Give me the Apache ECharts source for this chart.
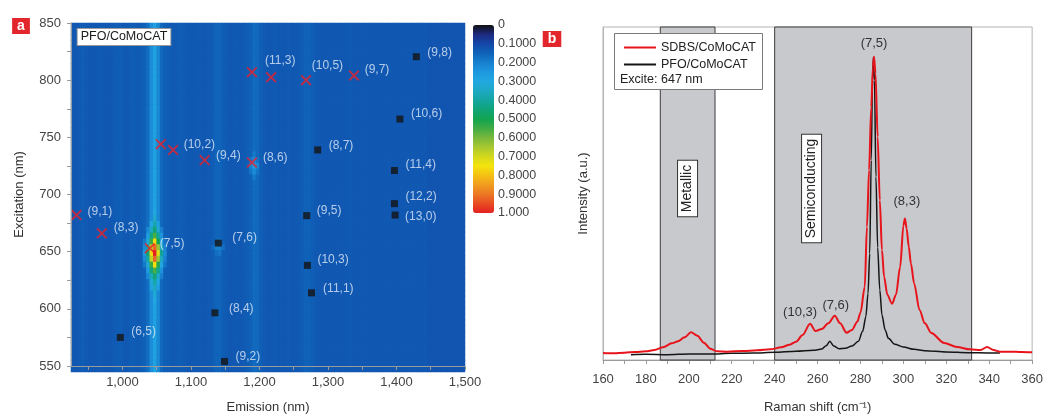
<!DOCTYPE html>
<html><head><meta charset="utf-8">
<script src="https://cdn.jsdelivr.net/npm/echarts@6/dist/echarts.min.js"></script>
<style>html,body{margin:0;padding:0;background:#fff;overflow:hidden;width:1046px;height:419px}#c{width:1046px;height:419px;overflow:hidden;display:block}</style>
</head><body><div id="c"></div>
<script>
// ================= Panel a: PL map (PFO/CoMoCAT) =================
// background intensity per 5-nm emission column (centres 927.5 ... 1497.5)
const colBase = [
  0.13,0.13,0.135,0.14,0.135,0.13,0.13,0.13,0.135,0.13,
  0.13,0.13,0.135,0.14,0.14,0.135,0.13,0.14,0.14,0.135,
  0.14,0.15,0.17,0.23,0.28,0.22,0.16,0.145,0.14,0.135,
  0.135,0.14,0.14,0.135,0.13,0.13,0.135,0.135,0.13,0.13,
  0.135,0.14,0.155,0.155,0.14,0.135,0.13,0.13,0.135,0.13,
  0.135,0.14,0.15,0.165,0.16,0.145,0.135,0.13,0.13,0.135,
  0.13,0.13,0.13,0.135,0.13,0.13,0.135,0.14,0.15,0.15,
  0.14,0.135,0.13,0.13,0.13,0.13,0.13,0.13,0.13,0.13,
  0.13,0.135,0.13,0.13,0.13,0.13,0.13,0.13,0.13,0.13,
  0.13,0.13,0.13,0.13,0.13,0.13,0.13,0.13,0.13,0.13,
  0.13,0.13,0.13,0.13,0.125,0.125,0.125,0.125,0.125,0.125,
  0.125,0.125,0.125,0.125,0.125
];
// bright cells [emission centre, excitation centre, intensity]
const hotCells = [
  // (7,5) spot
  [1047.5,612.5,0.3],[1047.5,617.5,0.32],[1047.5,622.5,0.35],[1047.5,627.5,0.39],[1047.5,632.5,0.45],[1047.5,637.5,0.56],
  [1047.5,642.5,0.76],[1047.5,647.5,0.92],[1047.5,652.5,1.0],[1047.5,657.5,0.92],[1047.5,662.5,0.76],
  [1047.5,667.5,0.56],[1047.5,672.5,0.45],[1047.5,677.5,0.38],[1047.5,682.5,0.33],[1047.5,687.5,0.3],
  [1042.5,622.5,0.28],[1042.5,627.5,0.31],[1042.5,632.5,0.36],[1042.5,637.5,0.44],[1042.5,642.5,0.54],[1042.5,647.5,0.68],
  [1042.5,652.5,0.76],[1042.5,657.5,0.68],[1042.5,662.5,0.54],[1042.5,667.5,0.43],[1042.5,672.5,0.35],[1042.5,677.5,0.3],
  [1052.5,622.5,0.27],[1052.5,627.5,0.3],[1052.5,632.5,0.34],[1052.5,637.5,0.42],[1052.5,642.5,0.52],[1052.5,647.5,0.64],
  [1052.5,652.5,0.72],[1052.5,657.5,0.64],[1052.5,662.5,0.5],[1052.5,667.5,0.41],[1052.5,672.5,0.33],[1052.5,677.5,0.28],
  [1037.5,632.5,0.22],[1037.5,637.5,0.26],[1037.5,642.5,0.32],[1037.5,647.5,0.4],[1037.5,652.5,0.45],[1037.5,657.5,0.4],[1037.5,662.5,0.32],[1037.5,667.5,0.26],[1037.5,672.5,0.22],
  [1057.5,632.5,0.2],[1057.5,637.5,0.24],[1057.5,642.5,0.3],[1057.5,647.5,0.36],[1057.5,652.5,0.41],[1057.5,657.5,0.36],[1057.5,662.5,0.29],[1057.5,667.5,0.24],[1057.5,672.5,0.2],
  [1032.5,642.5,0.19],[1032.5,647.5,0.22],[1032.5,652.5,0.25],[1032.5,657.5,0.22],[1032.5,662.5,0.19],
  [1062.5,642.5,0.18],[1062.5,647.5,0.21],[1062.5,652.5,0.23],[1062.5,657.5,0.21],[1062.5,662.5,0.18],
  // (8,6) glow
  [1192.5,727.5,0.27],[1192.5,722.5,0.23],[1192.5,732.5,0.23],[1187.5,727.5,0.21],[1197.5,727.5,0.22],
  [1192.5,717.5,0.19],[1192.5,737.5,0.19],[1187.5,722.5,0.18],[1197.5,732.5,0.18],[1187.5,732.5,0.18],[1197.5,722.5,0.18],
  // (7,6) glow
  [1142.5,657.5,0.2],[1137.5,657.5,0.2],[1142.5,662.5,0.18],[1142.5,652.5,0.18],
  [1137.5,662.5,0.17],[1137.5,652.5,0.17],[1147.5,657.5,0.17],[1132.5,657.5,0.16]
];
// red crosses
const redLabels     = ['(9,1)','(8,3)','(7,5)','','(10,2)','(9,4)','(8,6)','','(11,3)','(10,5)','(9,7)'];
const redEmission   = [933, 970, 1040, 1056, 1074, 1120, 1189, 1189, 1217, 1268, 1338];
const redExcitation = [682, 666, 653, 744, 739, 730, 728, 807, 802.5, 800, 804];
// black squares
const blackLabels     = ['(9,8)','(10,6)','(8,7)','(11,4)','(12,2)','(13,0)','(9,5)','(10,3)','(11,1)','(7,6)','(8,4)','(6,5)','(9,2)'];
const blackEmission   = [1429, 1405, 1285, 1397, 1397, 1398, 1269, 1270, 1276, 1140, 1135, 997, 1149];
const blackExcitation = [820.5, 766, 739, 721, 692, 682, 681.5, 638, 614, 657.5, 596.5, 575, 554];
// ticks
const emissionTicks = [1000, 1100, 1200, 1300, 1400, 1500];
const emissionMinorTicks = [950, 1000, 1050, 1100, 1150, 1200, 1250, 1300, 1350, 1400, 1450, 1500];
const colorbarTicks = [0, 0.1, 0.2, 0.3, 0.4, 0.5, 0.6, 0.7, 0.8, 0.9, 1.0];

// ================= Panel b: Raman spectra =================
const ramanSDBS = [160,165,170,175,180,184,188,192,195,198,201,204,207,210,213,218,225,232,238,243,247,250,253,256.5,259,262,265,268,270.5,273.5,276,278.5,280,282,283,284,285,285.8,286.3,287,288,289,290,291,292.5,294.7,296.5,298.5,300,300.7,301.5,302.5,303.5,305,307.5,310,313,319,325,331,336,339,342,345,350,355,360];
const intensSDBS = [2.1,2.0,2.2,2.4,2.6,3.0,3.8,5.0,5.6,6.8,8.3,7.3,5.2,3.4,2.6,2.5,2.7,2.9,3.2,3.8,4.6,5.5,7.5,10.9,8.7,9.3,11.0,13.3,11.0,8.2,9.0,11.5,14.2,22,40,57,76,88,91.1,86,67,48,33,25,19.6,16.9,19.5,28,40.4,42.5,39.5,34,29,23,15,11,8.1,5.1,3.9,3.2,3.0,3.9,3.0,2.5,2.5,2.4,2.3];
const ramanPFO = [173,180,190,200,210,220,230,240,250,258,262,264,265.7,267.5,270,273,276,279,281,282.5,283.5,284.3,285,285.6,286,286.5,287.2,288,289,290,291.5,293,296,300,305,310,320,330,340,345];
const intensPFO = [1.6,1.7,1.6,1.8,1.8,2.0,2.1,2.3,2.6,2.9,3.3,4.3,5.6,4.2,3.4,3.5,4.2,5.6,8.6,13,20,32,60,84,91,84,55,33.8,21,13.5,9,6.5,4.7,3.9,3.2,2.8,2.4,2.2,2.1,2.1];
const regionMetallic = [186.7, 212.2];
const regionSemi = [240, 331.8];
const peakNames = ['(10,3)', '(7,6)', '(7,5)', '(8,3)'];
const peakShifts = [256.5, 268, 286.3, 300.7];
const ramanTicks = [160,180,200,220,240,260,280,300,320,340,360];
const ramanMinorTicks = [160,170,180,190,200,210,220,230,240,250,260,270,280,290,300,310,320,330,340,350,360];

// ---- styles ----
const FONT = "'Liberation Sans', Arial, sans-serif";
const redOffsets = [[11,-3],[12,-6],[10,-5],null,[10.6,-5],[11.4,-5],[11,-5],null,[-6,-17],[5.7,-14],[10.7,-6]];
const blackOffsets = [[11,-4],[11,-5],[11,-4],[11,-6],[11,-7],[10,2],[10,-5],[10,-6],[11.6,-4],[14,-5],[14,-4],[11,-6],[11,-5]];
const peakLabelStyle = [[-10,5],[1,4],[0,7],[2,11]];
const colorRamp = ['#111111','#1e2a80','#1448a8','#0f62b8','#1880cf','#1e98df','#22a8e0','#1ea8c4','#14a6a0','#10a478','#12a450','#40ac44','#78b83c','#a8c830','#d4d81c','#f4e40c','#f4c014','#f09c20','#ec7824','#e84c24','#e42020'];
const mapBackground = '#1159b3';

// ---- build heatmap table ----
const emCenters = []; for (let e = 927.5; e < 1500; e += 5) emCenters.push(e);
const exCenters = []; for (let x = 552.5; x < 850; x += 5) exCenters.push(x);
const hot = new Map(hotCells.map(c => [c[0] + '|' + c[1], c[2]]));
const heatData = [];
exCenters.forEach((ex, j) => emCenters.forEach((em, i) => {
  const b = colBase[i] !== undefined ? colBase[i] : 0.13;
  const h = hot.get(em + '|' + ex);
  heatData.push([i, j, h !== undefined ? Math.max(h, b) : b]);
}));

function markerData(em, ex, labels, offsets, size) {
  return em.map((e, i) => {
    const o = offsets[i];
    return {
      value: [e, ex[i]],
      label: o ? { show: true, formatter: labels[i], position: [size / 2 + o[0], size / 2 + o[1]], align: 'left', verticalAlign: 'middle' } : { show: false }
    };
  });
}

const redX = 'path://M0,1.2L1.2,0L5,3.8L8.8,0L10,1.2L6.2,5L10,8.8L8.8,10L5,6.2L1.2,10L0,8.8L3.8,5Z';
const markerLabel = { color: '#dde9f8', fontSize: 12, fontFamily: FONT };

const sdbsData = ramanSDBS.map((x, i) => [x, intensSDBS[i]]);
const pfoData = ramanPFO.map((x, i) => [x, intensPFO[i]]);
const peakMarks = peakNames.map((n, i) => {
  const idx = ramanSDBS.indexOf(peakShifts[i]);
  return { name: n, coord: [peakShifts[i], intensSDBS[idx]],
    label: { offset: [peakLabelStyle[i][0], 0], distance: peakLabelStyle[i][1] } };
});

const axisGrey = '#9a9a9a';
const chart = echarts.init(document.getElementById('c'), null, { width: 1046, height: 419 });
chart.setOption({
  animation: false,
  textStyle: { fontFamily: FONT },
  grid: [
    { left: 71, top: 23, width: 394, height: 349, show: true, backgroundColor: mapBackground, borderWidth: 0 },
    { left: 71, top: 23, width: 394, height: 349 },
    { left: 473, top: 25, width: 21, height: 188 },
    { left: 603, top: 27, width: 432, height: 337, show: true, borderColor: '#b4b4b4', borderWidth: 1, backgroundColor: '#fff' }
  ],
  xAxis: [
    { type: 'category', gridIndex: 0, data: emCenters.map(String), show: false },
    { type: 'value', gridIndex: 1, min: 925, max: 1500, z: 10,
      axisLine: { show: true, onZero: false, lineStyle: { color: axisGrey } },
      axisTick: { show: true, customValues: emissionMinorTicks, length: 4, lineStyle: { color: axisGrey } },
      axisLabel: { customValues: emissionTicks, formatter: v => v.toLocaleString('en-US'), color: '#444', fontSize: 13, margin: 10 },
      splitLine: { show: false },
      name: 'Emission (nm)', nameLocation: 'middle', nameGap: 35, nameTextStyle: { color: '#333', fontSize: 13 } },
    { type: 'value', gridIndex: 2, show: false, min: 0, max: 1 },
    { type: 'value', gridIndex: 3, min: 160, max: 360,
      axisLine: { show: true, onZero: false, lineStyle: { color: axisGrey } },
      axisTick: { show: true, customValues: ramanMinorTicks, length: 4, lineStyle: { color: axisGrey } },
      axisLabel: { customValues: ramanTicks, color: '#444', fontSize: 13, margin: 13 },
      splitLine: { show: false },
      name: 'Raman shift (cm\u207B\u00B9)', nameLocation: 'middle', nameGap: 41, nameTextStyle: { color: '#333', fontSize: 13 } }
  ],
  yAxis: [
    { type: 'category', gridIndex: 0, data: exCenters.map(String), show: false },
    { type: 'value', gridIndex: 1, min: 550, max: 850, interval: 25, z: 10,
      axisLine: { show: true, onZero: false, lineStyle: { color: axisGrey } },
      axisTick: { show: true, length: 4, lineStyle: { color: axisGrey } },
      axisLabel: { formatter: v => (v % 50 === 0 ? String(v) : ''), color: '#444', fontSize: 13, margin: 10 },
      splitLine: { show: false },
      name: 'Excitation (nm)', nameLocation: 'middle', nameGap: 45, nameRotate: 90, nameTextStyle: { color: '#333', fontSize: 13 } },
    { type: 'value', gridIndex: 2, min: 0, max: 1, inverse: true, position: 'right',
      axisLine: { show: false }, axisTick: { show: false }, splitLine: { show: false },
      axisLabel: { customValues: colorbarTicks, formatter: v => (v === 0 ? '0' : (Math.abs(v - 1) < 1e-9 ? '1.000' : v.toFixed(4))), color: '#444', fontSize: 12.5, margin: 4 } },
    { type: 'value', gridIndex: 3, min: 0, max: 100,
      axisLine: { show: true, onZero: false, lineStyle: { color: '#b4b4b4' } },
      axisTick: { show: false }, axisLabel: { show: false }, splitLine: { show: false },
      name: 'Intensity (a.u.)', nameLocation: 'middle', nameGap: 13, nameRotate: 90, nameTextStyle: { color: '#333', fontSize: 13 } }
  ],
  visualMap: {
    type: 'continuous', min: 0, max: 1, seriesIndex: 0, calculable: false, inverse: true,
    orient: 'vertical', left: 473, top: 25, itemWidth: 21, itemHeight: 188, padding: 0,
    inRange: { color: colorRamp }
  },
  legend: {
    data: ['SDBS/CoMoCAT', 'PFO/CoMoCAT'], left: 619, top: 36, orient: 'vertical',
    icon: 'rect', itemWidth: 32, itemHeight: 2, itemGap: 4, selectedMode: false, z: 8,
    textStyle: { color: '#222', fontSize: 12.5, fontFamily: FONT }
  },
  series: [
    { type: 'heatmap', xAxisIndex: 0, yAxisIndex: 0, data: heatData, silent: true, progressive: 0,
      itemStyle: { borderWidth: 0 }, emphasis: { disabled: true } },
    { type: 'scatter', xAxisIndex: 1, yAxisIndex: 1, symbol: redX, symbolSize: 11, clip: false, silent: true,
      itemStyle: { color: '#e8202a' }, label: markerLabel,
      data: markerData(redEmission, redExcitation, redLabels, redOffsets, 11) },
    { type: 'scatter', xAxisIndex: 1, yAxisIndex: 1, symbol: 'rect', symbolSize: 7, clip: false, silent: true,
      itemStyle: { color: '#141414' }, label: markerLabel,
      data: markerData(blackEmission, blackExcitation, blackLabels, blackOffsets, 7) },
    { type: 'line', name: 'PFO/CoMoCAT', xAxisIndex: 3, yAxisIndex: 3, data: pfoData, showSymbol: false, smooth: 0.3, smoothMonotone: 'x',
      color: '#151515', lineStyle: { color: '#151515', width: 1.5 }, silent: true,
      markArea: { silent: true, itemStyle: { color: '#c8c9cc', borderColor: '#3c3c3c', borderWidth: 1 },
        data: [[{ xAxis: regionMetallic[0] }, { xAxis: regionMetallic[1] }], [{ xAxis: regionSemi[0] }, { xAxis: regionSemi[1] }]] } },
    { type: 'line', name: 'SDBS/CoMoCAT', xAxisIndex: 3, yAxisIndex: 3, data: sdbsData, showSymbol: false, smooth: 0.3, smoothMonotone: 'x',
      color: '#e8141c', lineStyle: { color: '#e8141c', width: 2 }, silent: true,
      markPoint: { symbol: 'circle', symbolSize: 0, silent: true,
        label: { show: true, position: 'top', formatter: '{b}', color: '#333', fontSize: 13, fontFamily: FONT },
        data: peakMarks } }
  ]
});

// annotations placed through the chart's own scales
const metC = chart.convertToPixel({ gridIndex: 3 }, [199.4, 51.5]);
const semC = chart.convertToPixel({ gridIndex: 3 }, [257.2, 51.5]);
const boxText = (t, p) => ({ type: 'text', x: p[0], y: p[1], rotation: Math.PI / 2, z: 20,
  style: { text: t, font: '14px ' + FONT, fill: '#222', align: 'center', verticalAlign: 'middle',
    backgroundColor: '#fff', borderColor: '#333', borderWidth: 1, padding: [3, 4, 2, 4] } });
chart.setOption({
  graphic: [
    { type: 'text', x: 21, y: 26, z: 20, style: { text: 'a', font: 'bold 14px ' + FONT, fill: '#fff', backgroundColor: '#e3262c', padding: [1, 5, 1, 5], align: 'center', verticalAlign: 'middle' } },
    { type: 'text', x: 552, y: 39, z: 20, style: { text: 'b', font: 'bold 14px ' + FONT, fill: '#fff', backgroundColor: '#e3262c', padding: [1, 5, 1, 5], align: 'center', verticalAlign: 'middle' } },
    { type: 'text', x: 124, y: 37, z: 20, style: { text: 'PFO/CoMoCAT', font: '12.5px ' + FONT, fill: '#1a1a1a', backgroundColor: '#fff', borderColor: '#9a9a9a', borderWidth: 1, padding: [2, 3, 1, 3], align: 'center', verticalAlign: 'middle' } },
    { type: 'rect', z: 5, shape: { x: 614.5, y: 33.5, width: 148, height: 56 }, style: { fill: '#fff', stroke: '#7a7a7a', lineWidth: 1 } },
    { type: 'text', x: 620, y: 80, z: 20, style: { text: 'Excite: 647 nm', font: '12.5px ' + FONT, fill: '#222', verticalAlign: 'middle' } },
    boxText('Metallic', metC),
    boxText('Semiconducting', semC)
  ]
});
</script>
</body></html>
